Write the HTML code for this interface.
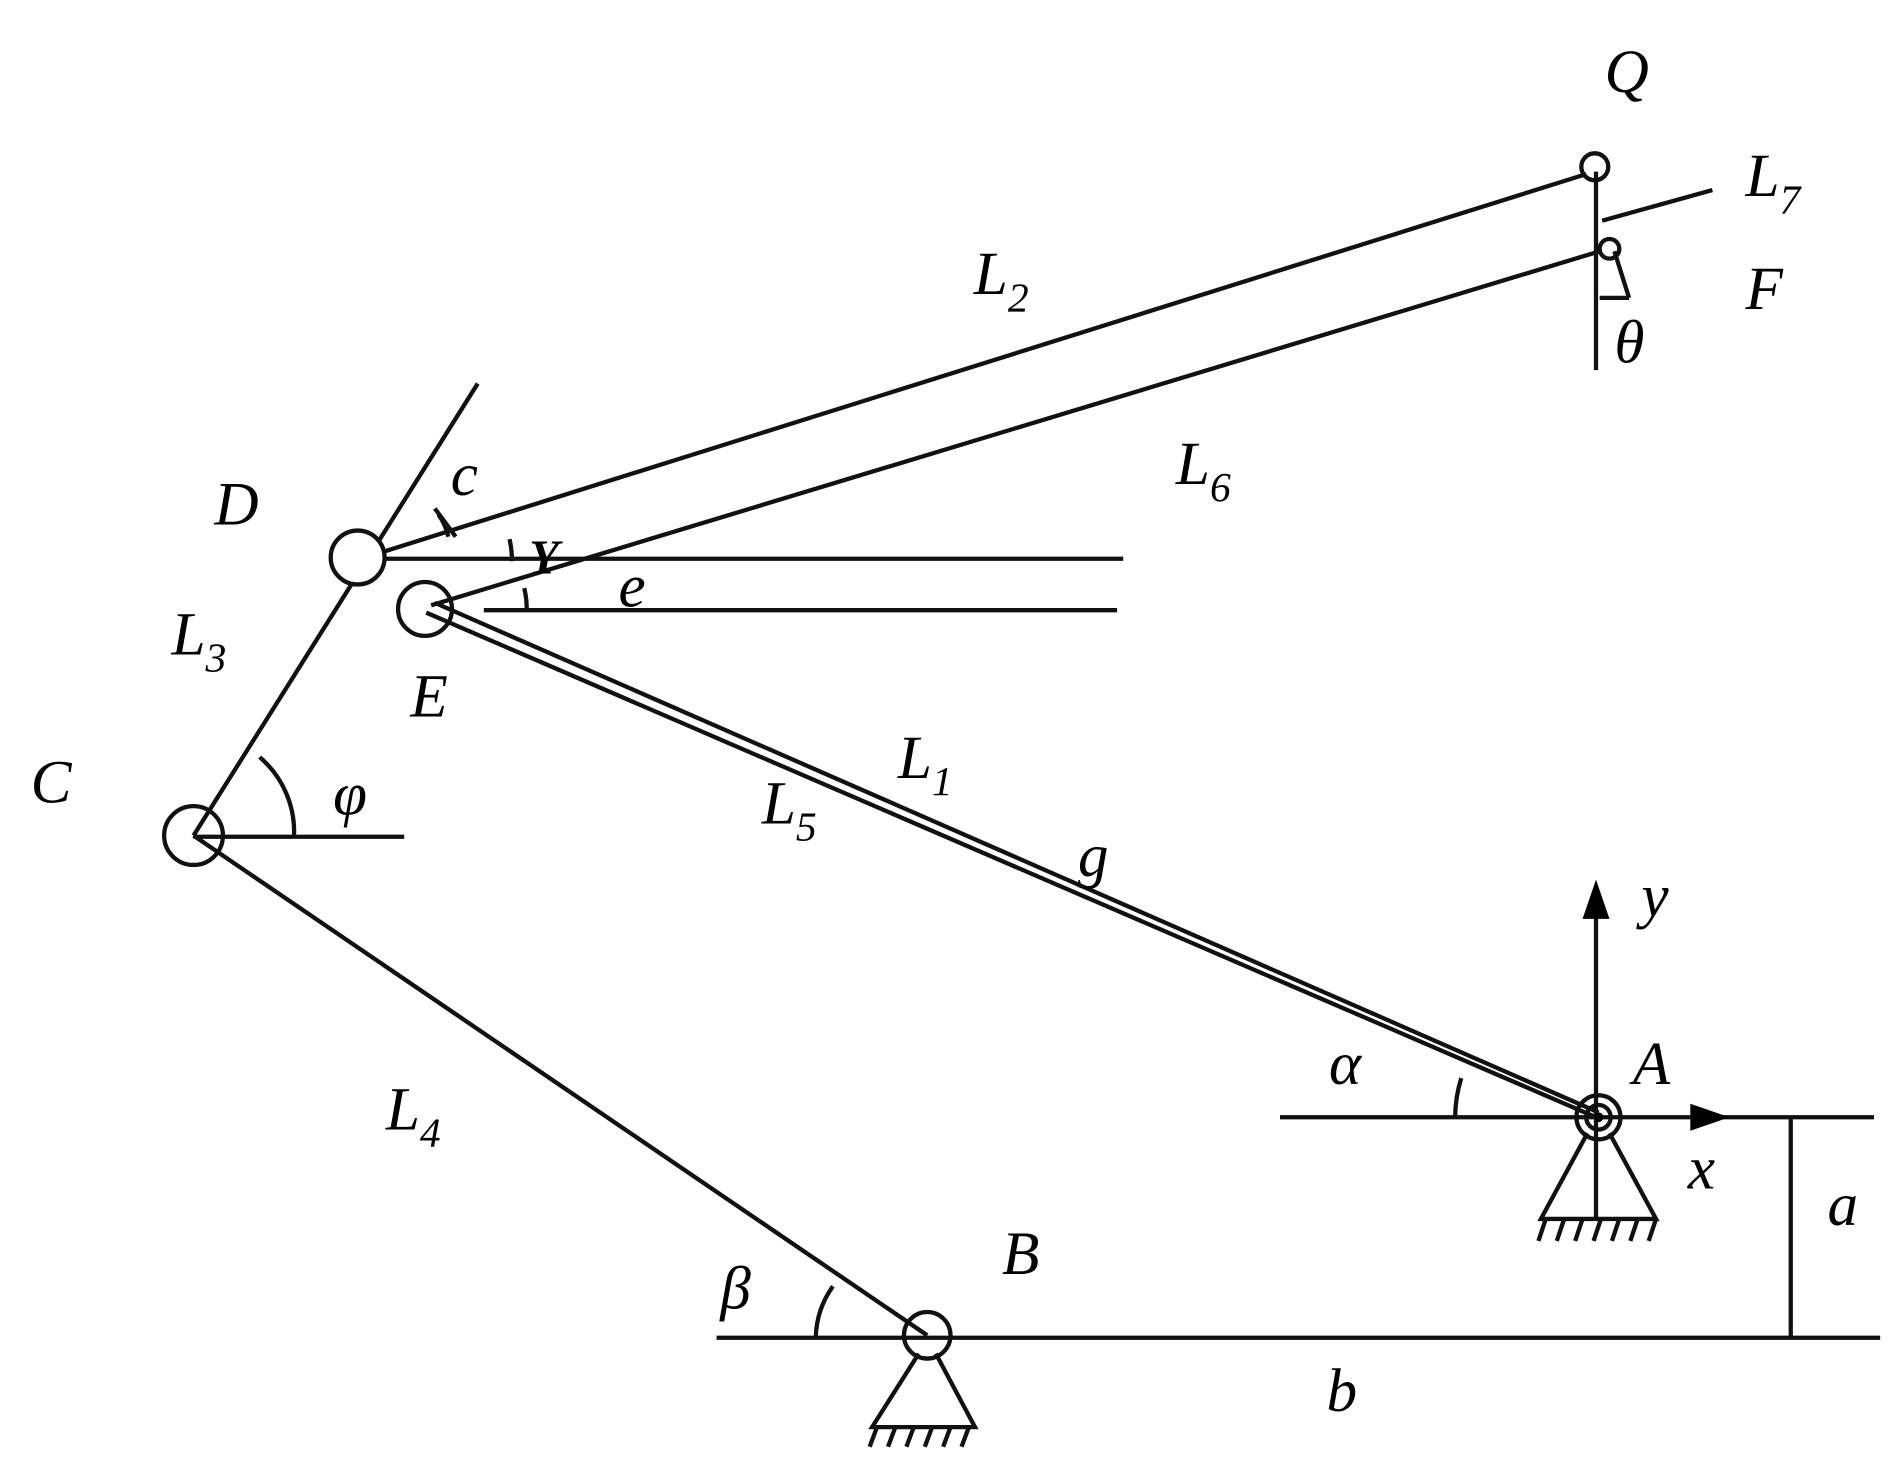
<!DOCTYPE html>
<html><head><meta charset="utf-8"><style>
html,body{margin:0;padding:0;background:#fff}
svg{display:block}
text{font-family:"Liberation Serif",serif;font-style:italic;fill:#000}
</style></head><body>
<svg width="1901" height="1469" viewBox="0 0 1552 1199" xmlns="http://www.w3.org/2000/svg">
<g stroke="#111" stroke-width="3.5" fill="none">
<line x1="298" y1="455" x2="1295" y2="142"/>
<line x1="352" y1="494" x2="1306" y2="205"/>
<line x1="300" y1="456" x2="917" y2="456"/>
<line x1="395" y1="498" x2="912" y2="498"/>
<line x1="158" y1="682" x2="390" y2="313"/>
<line x1="158" y1="683" x2="330" y2="683"/>
<line x1="158" y1="682" x2="757" y2="1090"/>
<line x1="585" y1="1092" x2="1535" y2="1092"/>
<line x1="1045" y1="912" x2="1530" y2="912"/>
<line x1="1462" y1="912" x2="1462" y2="1092"/>
<line x1="348" y1="500" x2="1303" y2="912"/>
<line x1="355" y1="492" x2="1305" y2="908"/>
<line x1="1303" y1="745" x2="1303" y2="995"/>
<line x1="1303" y1="140" x2="1303" y2="302"/>
<line x1="1308" y1="180" x2="1398" y2="155"/>
<line x1="1306" y1="243" x2="1330" y2="243"/>
<line x1="1318" y1="205" x2="1330" y2="243"/>
<circle cx="292" cy="455" r="22" fill="#fff"/>
<circle cx="347" cy="497" r="22" fill="none"/>
<circle cx="158" cy="682" r="24" fill="none"/>
<circle cx="757" cy="1090" r="19" fill="none"/>
<circle cx="1305" cy="912" r="18" fill="none"/>
<circle cx="1305" cy="912" r="10" fill="none"/>
<circle cx="1302" cy="136" r="11" fill="none"/>
<circle cx="1314" cy="203" r="8" fill="none"/>
<path d="M 358 420 A 50 50 0 0 1 366 438"/>
<path d="M 355 415 L 372 438"/>
<path d="M 418 458 A 85 85 0 0 0 416 440"/>
<path d="M 428 480 A 70 70 0 0 1 430 498"/>
<path d="M 212 618 A 80 80 0 0 1 240 683"/>
<path d="M 1193 880 A 110 110 0 0 0 1188 912"/>
<path d="M 680 1050 A 75 75 0 0 0 666 1092"/>
<path d="M 1296 925 L 1258 995 L 1352 995 L 1314 925"/>
<path d="M 750 1105 L 712 1165 L 796 1165 L 764 1105"/>
<path d="M 1262 995 l -6 18 M 1277 995 l -6 18 M 1292 995 l -6 18 M 1307 995 l -6 18 M 1322 995 l -6 18 M 1337 995 l -6 18 M 1352 995 l -6 18"/>
<path d="M 716 1165 l -6 16 M 731 1165 l -6 16 M 746 1165 l -6 16 M 761 1165 l -6 16 M 776 1165 l -6 16 M 791 1165 l -6 16"/>
</g>
<polygon points="1303,718 1292,750 1314,750" fill="#000"/>
<polygon points="1412,912 1380,901 1380,923" fill="#000"/>
<circle cx="1305" cy="912" r="4" fill="#000"/>
<g font-size="50">
<text x="1310" y="75">Q</text>
<text x="1425" y="160">L<tspan font-size="34" dy="14">7</tspan></text>
<text x="1425" y="252">F</text>
<text x="1318" y="296">θ</text>
<text x="795" y="240">L<tspan font-size="34" dy="14">2</tspan></text>
<text x="960" y="395">L<tspan font-size="34" dy="14">6</tspan></text>
<text x="175" y="428">D</text>
<text x="368" y="404">c</text>
<text x="505" y="495">e</text>
<text x="140" y="534">L<tspan font-size="34" dy="14">3</tspan></text>
<text x="335" y="585">E</text>
<text x="25" y="655">C</text>
<text x="272" y="665">φ</text>
<text x="733" y="635">L<tspan font-size="34" dy="14">1</tspan></text>
<text x="622" y="672">L<tspan font-size="34" dy="14">5</tspan></text>
<text x="880" y="715">g</text>
<text x="1340" y="748">y</text>
<text x="1333" y="885">A</text>
<text x="1085" y="885">α</text>
<text x="1378" y="970">x</text>
<text x="1492" y="1000">a</text>
<text x="315" y="922">L<tspan font-size="34" dy="14">4</tspan></text>
<text x="818" y="1040">B</text>
<text x="588" y="1068">β</text>
<text x="1083" y="1152">b</text>
</g>
<text x="432" y="468" font-size="40" font-style="normal" font-family="Liberation Sans, sans-serif" font-weight="bold" fill="#102040">Y</text>
</svg>
</body></html>
